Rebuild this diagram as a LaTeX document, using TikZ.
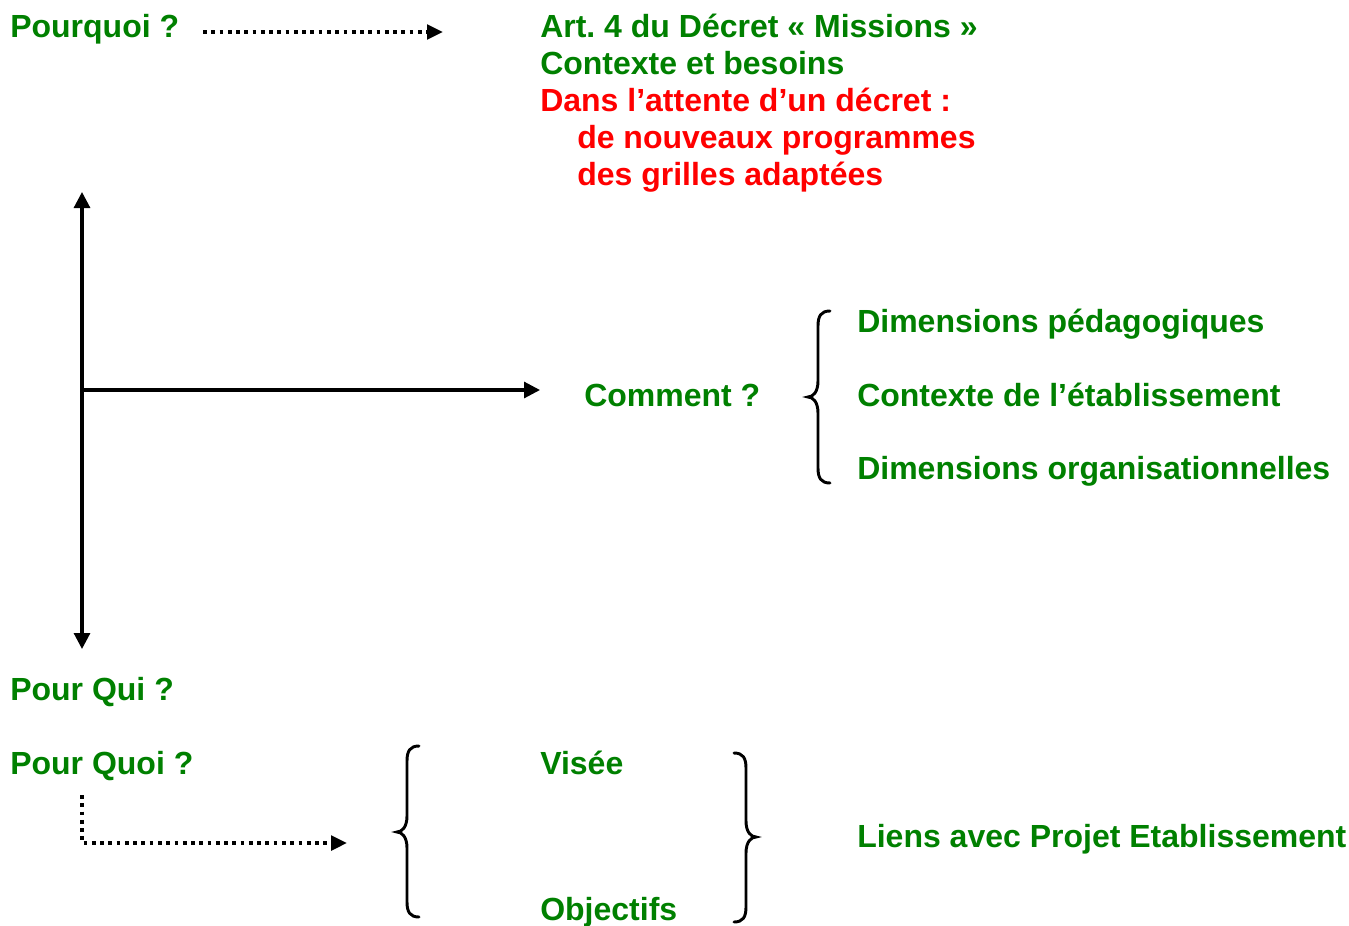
\documentclass[tikz,border=0pt]{standalone}
\usepackage{fontspec}
\setmainfont{Liberation Sans}
\usetikzlibrary{arrows.meta}
\definecolor{tgreen}{RGB}{0,128,0}
\definecolor{tred}{RGB}{255,0,0}
\frenchspacing
\begin{document}
\begin{tikzpicture}[x=0.75pt,y=-0.75pt,
  lbl/.style={anchor=base west,inner sep=0pt,font=\fontsize{24}{28}\selectfont\bfseries,text=tgreen},
  rlbl/.style={lbl,text=tred},
  axis/.style={line width=2.3pt,-{Triangle[length=12pt,width=12pt]}},
  dotarrow/.style={line width=2.6pt,dash pattern=on 2.8pt off 3.4pt,-{Triangle[length=12pt,width=11pt]}},
  bracestyle/.style={line width=2.2pt,line cap=round}]
\useasboundingbox (0,0) rectangle (1349,925);
% top
\node[lbl] (pourquoi) at (10,37) {Pourquoi ?};
\coordinate (d1s) at (203,32);
\coordinate (d1e) at (443,32);
\draw[dotarrow] (d1s) -- (d1e);
\node[lbl] (art) at (540,37) {Art.\ 4 du Décret « Missions »};
\node[lbl] (ctx) at (540,74) {Contexte et besoins};
\node[rlbl] (dans) at (540,111) {Dans l’attente d’un décret :};
\node[rlbl] (prog) at (577,148) {de nouveaux programmes};
\node[rlbl] (gril) at (577,185) {des grilles adaptées};
% axes
\coordinate (o) at (82,390);
\coordinate (top) at (82,192);
\coordinate (bot) at (82,649);
\coordinate (right) at (540,390);
\draw[axis] (o) -- (top);
\draw[axis] (o) -- (bot);
\draw[axis] (o) -- (right);
% comment
\node[lbl] (comment) at (584,406) {Comment ?};
\draw[bracestyle] (830,311) .. controls (821,311) and (818,316) .. (818,326) -- (818,381)
  .. controls (818,392) and (813,397) .. (808,397) .. controls (813,397) and (818,402) .. (818,413)
  -- (818,468) .. controls (818,478) and (821,483) .. (830,483);
\node[lbl] (dimp) at (857,332) {Dimensions pédagogiques};
\node[lbl] (ctxe) at (857,406) {Contexte de l’établissement};
\node[lbl] (dimo) at (857,479) {Dimensions organisationnelles};
% bottom
\node[lbl] (pourqui) at (10,700) {Pour Qui ?};
\node[lbl] (pourquoi2) at (10,774) {Pour Quoi ?};
\coordinate (d2s) at (82,795);
\coordinate (d2c) at (82,843);
\coordinate (d2e) at (347,843);
\draw[dotarrow] (d2s) -- (d2c) -- (d2e);
\draw[bracestyle] (419,746) .. controls (410,746) and (407,751) .. (407,761) -- (407,816)
  .. controls (407,827) and (402,832) .. (397,832) .. controls (402,832) and (407,837) .. (407,848)
  -- (407,902) .. controls (407,912) and (410,917) .. (419,917);
\node[lbl] (visee) at (540,774) {Visée};
\node[lbl] (obj) at (540,920) {Objectifs};
\draw[bracestyle] (734,753) .. controls (743,753) and (746,758) .. (746,768) -- (746,821)
  .. controls (746,832) and (751,837) .. (756,837) .. controls (751,837) and (746,842) .. (746,853)
  -- (746,907) .. controls (746,917) and (743,922) .. (734,922);
\node[lbl] (liens) at (857,847) {Liens avec Projet Etablissement};
\end{tikzpicture}
\end{document}
